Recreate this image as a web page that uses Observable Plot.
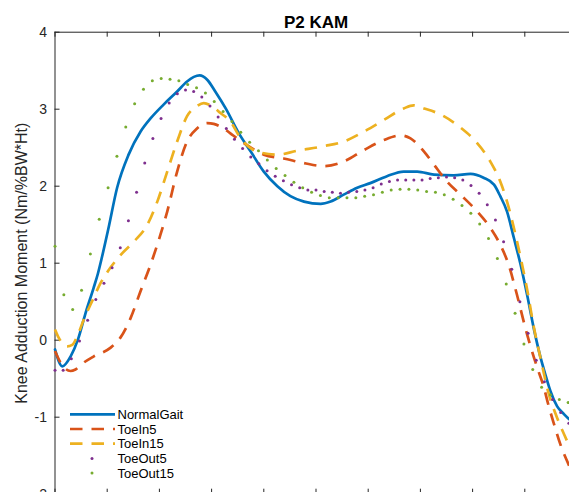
<!DOCTYPE html>
<html><head><meta charset="utf-8">
<script src="https://cdn.jsdelivr.net/npm/d3@7"></script>
<script src="https://cdn.jsdelivr.net/npm/@observablehq/plot@0.6"></script>
<style>
html,body{margin:0;padding:0;background:#fff;overflow:hidden;}
#wrap{position:relative;width:569px;height:492px;overflow:hidden;}
#wrap svg.plot{position:absolute;left:0;top:0;max-width:none !important;width:600px !important;height:520px !important;}
#legend{position:absolute;left:0;top:0;pointer-events:none;}
</style></head><body><div id="wrap"></div>
<script>
const title = "P2 KAM";
const yLabel = "Knee Adduction Moment (Nm/%BW*Ht)";
const yTicks = [-2, -1, 0, 1, 2, 3, 4];
const xTicks = [0, 10, 20, 30, 40, 50, 60, 70, 80, 90, 100];
const seriesNames = ["NormalGait", "ToeIn5", "ToeIn15", "ToeOut5", "ToeOut15"];
const seriesColors = ["#0072BD", "#D95319", "#EDB120", "#7E2F8E", "#77AC30"];

// NormalGait (solid line)
const normalX = [0,1.4,3.0,4.4,5.8,7.4,8.2,9.0,10.2,11.9,14.1,16.4,18.3,20.8,23.4,25.3,26.6,27.7,29.2,30.7,32.7,35.2,37.5,40.0,42.6,45.1,47.7,50.9,52.8,55.3,57.9,60.4,63.6,66.8,69.4,72.6,76.4,79.6,82.1,84.1,85.3,86.6,87.9,89.2,90.5,91.7,93.0,94.0,94.9,96.2,97.5,98.4,100];
const normalY = [-0.12,-0.34,-0.21,0.01,0.34,0.68,0.86,1.08,1.44,1.98,2.41,2.71,2.88,3.06,3.23,3.36,3.42,3.44,3.38,3.23,3.01,2.69,2.45,2.19,2.0,1.87,1.80,1.77,1.80,1.89,1.98,2.04,2.13,2.19,2.19,2.15,2.14,2.16,2.11,2.02,1.87,1.67,1.33,0.98,0.57,0.16,-0.22,-0.46,-0.66,-0.86,-0.96,-1.02,-1.1];

// ToeIn5 (dashed)
const toeIn5X = [0,1.05,2.97,3.93,5.52,7.43,10.6,12.5,14.5,16.4,18.3,20.2,21.5,23.4,25.3,27.2,29.2,30.4,32.3,33.9,36.2,40.0,43.8,47.7,51.5,55.3,59.2,63.0,66.2,68.1,70.7,72.6,75.1,77.7,80.9,83.4,85.3,86.9,88.5,90.1,91.1,92.4,93.6,94.6,95.6,96.8,98.1,100];
const toeIn5Y = [-0.14,-0.29,-0.40,-0.38,-0.29,-0.21,-0.10,0.03,0.29,0.64,0.98,1.37,1.67,2.19,2.58,2.75,2.82,2.81,2.75,2.67,2.56,2.41,2.36,2.30,2.26,2.32,2.47,2.60,2.66,2.62,2.45,2.28,2.06,1.89,1.67,1.46,1.24,0.98,0.59,0.16,-0.08,-0.36,-0.60,-0.86,-1.09,-1.35,-1.57,-1.85];

// ToeIn15 (dashed)
const toeIn15X = [0,0.73,2.34,3.3,4.25,5.52,7.13,8.72,10.6,12.9,15.1,17.7,19.6,21.5,23.4,25.3,27.2,28.5,29.8,31.7,33.6,35.5,38.7,42.6,46.4,51.5,55.3,59.2,63.0,66.8,68.7,70.7,73.9,77.7,80.6,83.4,85.3,86.6,87.9,89.2,90.5,91.7,93.0,94.6,96.2,98.1,100];
const toeIn15Y = [0.14,0.03,-0.08,-0.06,0.05,0.27,0.51,0.74,0.94,1.13,1.28,1.50,1.80,2.19,2.58,2.91,3.04,3.08,3.05,2.95,2.84,2.63,2.45,2.41,2.46,2.52,2.58,2.71,2.86,3.01,3.05,3.01,2.93,2.76,2.58,2.32,2.06,1.80,1.46,1.07,0.64,0.18,-0.23,-0.70,-1.01,-1.31,-1.6];

// ToeOut5 (dots, evenly sampled over the cycle)
const toeOut5Y = [-0.39,-0.39,-0.24,-0.01,0.26,0.53,0.74,0.94,1.20,1.55,1.92,2.30,2.62,2.88,3.08,3.20,3.25,3.23,3.16,3.04,2.90,2.75,2.61,2.49,2.38,2.29,2.20,2.13,2.07,2.02,1.98,1.95,1.95,1.93,1.92,1.91,1.92,1.93,1.95,1.98,2.03,2.06,2.08,2.08,2.08,2.08,2.10,2.11,2.12,2.11,2.08,2.01,1.91,1.76,1.56,1.28,0.92,0.50,0.09,-0.26,-0.54,-0.77,-0.94,-1.08,-1.2];

// ToeOut15 (dots, evenly sampled over the cycle)
const toeOut15Y = [1.22,0.59,0.40,0.65,1.12,1.57,1.98,2.39,2.77,3.07,3.26,3.37,3.40,3.39,3.37,3.32,3.28,3.21,3.10,2.97,2.84,2.70,2.57,2.46,2.34,2.23,2.14,2.05,1.98,1.92,1.88,1.85,1.85,1.85,1.85,1.87,1.89,1.92,1.95,1.96,1.96,1.95,1.93,1.92,1.89,1.83,1.75,1.65,1.51,1.32,1.06,0.73,0.35,-0.05,-0.38,-0.61,-0.71,-0.77,-0.81,-0.85];

const pairs = (xs, ys) => xs.map((x, i) => ({x, y: ys[i]}));
const sampled = ys => ys.map((y, i) => ({x: i * 100 / (ys.length - 1), y}));

const W = 600, H = 520, mL = 54.5, mR = 23.5, mT = 31.7, mB = 26.3;
const frameW = W - mL - mR, frameH = H - mT - mB;
const axisColor = "#262626";
const font = "'Liberation Sans', Arial, Helvetica, sans-serif";
const lw = 2.7, dash = "12.5,9", curve = "monotone-x";

const chart = Plot.plot({
  width: W, height: H,
  marginLeft: mL, marginRight: mR, marginTop: mT, marginBottom: mB,
  style: {fontFamily: font, background: "transparent", overflow: "visible", maxWidth: "none"},
  x: {domain: [0, 100], axis: null},
  y: {domain: [-2, 4], axis: null},
  marks: [
    Plot.frame({stroke: axisColor, strokeWidth: 1}),
    Plot.ruleX(xTicks, {insetBottom: frameH - 5, stroke: axisColor}),
    Plot.ruleX(xTicks, {insetTop: frameH - 5, stroke: axisColor}),
    Plot.ruleY(yTicks, {insetRight: frameW - 5, stroke: axisColor}),
    Plot.text(yTicks, {y: d => d, frameAnchor: "left", textAnchor: "end", dx: -8,
      text: d => (d < 0 ? "-" + Math.abs(d) : String(d)), fontSize: 14, fill: axisColor}),
    Plot.text([yLabel], {frameAnchor: "left", textAnchor: "middle", rotate: -90, dx: -33, text: d => d, fontSize: 16, fill: axisColor}),
    Plot.text([title], {frameAnchor: "top", textAnchor: "middle", lineAnchor: "middle", dy: -9.9, text: d => d, fontSize: 17, fontWeight: "bold", fill: "#000"}),
    Plot.line(pairs(normalX, normalY), {x: "x", y: "y", stroke: seriesColors[0], strokeWidth: lw, curve}),
    Plot.line(pairs(toeIn5X, toeIn5Y), {x: "x", y: "y", stroke: seriesColors[1], strokeWidth: lw, strokeDasharray: dash, strokeLinecap: "butt", curve}),
    Plot.line(pairs(toeIn15X, toeIn15Y), {x: "x", y: "y", stroke: seriesColors[2], strokeWidth: lw, strokeDasharray: dash, strokeLinecap: "butt", curve}),
    Plot.dot(sampled(toeOut5Y), {x: "x", y: "y", r: 1.5, fill: seriesColors[3], stroke: null}),
    Plot.dot(sampled(toeOut15Y), {x: "x", y: "y", r: 1.5, fill: seriesColors[4], stroke: null})
  ]
});
chart.classList.add("plot");
const wrap = document.getElementById("wrap");
wrap.appendChild(chart);

// Legend (overlay, no box)
const lg = d3.select(wrap).append("svg").attr("id", "legend").attr("width", 569).attr("height", 492);
const styles = ["solid", "dash", "dash", "dot", "dot"];
seriesNames.forEach((name, i) => {
  const cy = 414.3 + i * 14.7;
  const g = lg.append("g");
  if (styles[i] === "dot") {
    g.append("circle").attr("cx", 92).attr("cy", cy).attr("r", 1.5).attr("fill", seriesColors[i]);
  } else {
    const l = g.append("line").attr("x1", 70).attr("x2", 115).attr("y1", cy).attr("y2", cy)
      .attr("stroke", seriesColors[i]).attr("stroke-width", lw);
    if (styles[i] === "dash") l.attr("stroke-dasharray", dash);
  }
  g.append("text").attr("x", 117.5).attr("y", cy).attr("dy", "0.35em")
    .attr("font-family", font).attr("font-size", 13).attr("fill", "#000").text(name);
});
</script></body></html>
